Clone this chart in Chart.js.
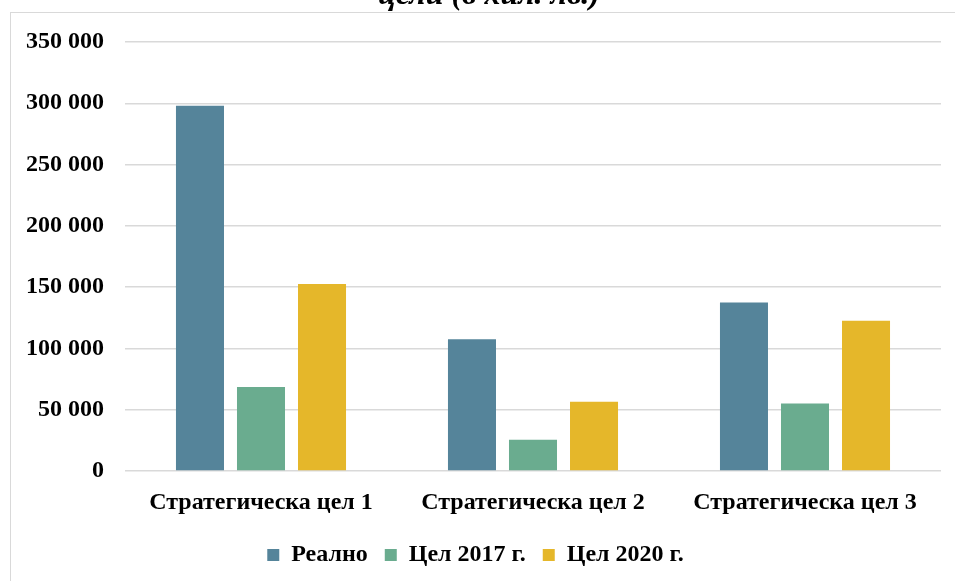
<!DOCTYPE html>
<html>
<head>
<meta charset="utf-8">
<script src="https://cdn.jsdelivr.net/npm/chart.js@4/dist/chart.umd.min.js"></script>
<style>
  html, body { margin: 0; padding: 0; background: #fff; }
  #wrap { width: 955px; height: 581px; overflow: hidden; }
</style>
</head>
<body>
<div id="wrap"><canvas id="chart" width="955" height="581"></canvas></div>
<script>
const categories = ['Стратегическа цел 1', 'Стратегическа цел 2', 'Стратегическа цел 3'];
const realno = [298000, 107500, 137500];
const cel2017 = [68500, 25500, 55000];
const cel2020 = [152500, 56500, 122500];
const seriesNames = ['Реално', 'Цел 2017 г.', 'Цел 2020 г.'];
const titleText = 'цели (в хил. лв.)';

const colors = ['#55849a', '#6aac8f', '#e5b72a'];
const FONT = "'Liberation Serif', 'Times New Roman', serif";

function fmt(v) {
    return String(v).replace(/\B(?=(\d{3})+(?!\d))/g, ' ');
}

// grey frame round the chart + cut-off title above it
const framePlugin = {
    id: 'frame',
    beforeDraw(chart) {
        const ctx = chart.ctx;
        ctx.save();
        ctx.fillStyle = '#fff';
        ctx.fillRect(0, 0, chart.width, chart.height);
        ctx.strokeStyle = '#d9d9d9';
        ctx.lineWidth = 1;
        ctx.strokeRect(10.5, 12.5, 1000, 1000);
        ctx.restore();
    },
    afterDraw(chart) {
        const ctx = chart.ctx;
        ctx.save();
        ctx.font = 'italic bold 32px ' + FONT;
        ctx.fillStyle = '#000';
        ctx.textAlign = 'center';
        ctx.textBaseline = 'alphabetic';
        ctx.fillText(titleText, 489, 4);
        ctx.restore();
    }
};

const data = {
    labels: categories,
    datasets: [realno, cel2017, cel2020].map((vals, i) => ({
        label: seriesNames[i],
        data: vals,
        backgroundColor: colors[i],
        borderWidth: 0
    }))
};

new Chart('chart', {
    type: 'bar',
    data: data,
    plugins: [framePlugin],
    options: {
        responsive: false,
        animation: false,
        layout: { padding: { left: 10, right: 14, top: 42, bottom: 4 } },
        datasets: {
            bar: { categoryPercentage: 0.673, barPercentage: 0.787 }
        },
        scales: {
            x: {
                grid: { display: false, drawTicks: false },
                border: { display: false },
                ticks: {
                    color: '#000',
                    padding: 17,
                    font: { family: FONT, size: 24, weight: 'bold' }
                },
                afterFit(scale) { scale.height = 55; }
            },
            y: {
                min: 0,
                max: 350000,
                grid: { color: '#d9d9d9', lineWidth: 1.5, drawTicks: false },
                border: { display: false },
                ticks: {
                    stepSize: 50000,
                    color: '#000',
                    padding: 21,
                    font: { family: FONT, size: 24, weight: 'bold' },
                    callback: v => fmt(v)
                },
                afterFit(scale) { scale.width = 115; }
            }
        },
        plugins: {
            legend: {
                position: 'bottom',
                labels: {
                    boxWidth: 12,
                    boxHeight: 12,
                    padding: 17,
                    color: '#000',
                    font: { family: FONT, size: 24, weight: 'bold' }
                }
            },
            tooltip: { enabled: false }
        }
    }
});
</script>
</body>
</html>
